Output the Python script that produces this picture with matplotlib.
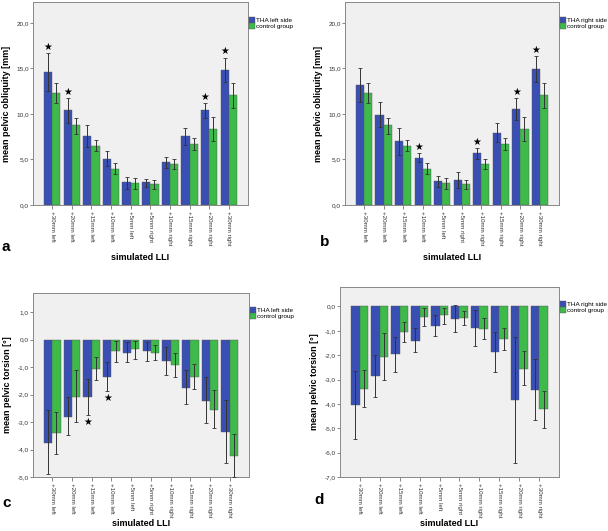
import numpy as np
import matplotlib
matplotlib.use("Agg")
import matplotlib.pyplot as plt
from matplotlib.ticker import FuncFormatter

plt.rcParams["font.family"] = ["Liberation Sans", "DejaVu Sans"]

categories = ["+30mm left", "+20mm left", "+15mm left", "+10mm left", "+5mm left",
              "+5mm right", "+10mm right", "+15mm right", "+20mm right", "+30mm right"]

# panel a: pelvic obliquity, THA left side vs control
a_tha = [14.6, 10.4, 7.6, 5.1, 2.5, 2.5, 4.7, 7.6, 10.4, 14.8]
a_tha_lo = [12.5, 9.0, 6.4, 4.3, 1.8, 2.0, 4.1, 6.6, 9.6, 13.5]
a_tha_hi = [16.7, 11.8, 8.8, 5.9, 3.1, 2.9, 5.3, 8.5, 11.2, 16.2]
a_ctl = [12.3, 8.8, 6.5, 4.0, 2.4, 2.3, 4.5, 6.7, 8.4, 12.1]
a_ctl_lo = [11.2, 7.8, 5.9, 3.4, 1.8, 1.8, 3.9, 6.0, 7.0, 10.7]
a_ctl_hi = [13.4, 9.6, 7.1, 4.6, 3.0, 2.7, 5.1, 7.4, 9.7, 13.4]
a_star = [True, True, False, False, False, False, False, False, True, True]

# panel b: pelvic obliquity, THA right side vs control
b_tha = [13.2, 9.9, 7.0, 5.2, 2.6, 2.7, 5.7, 7.9, 10.6, 14.9]
b_tha_lo = [11.3, 8.6, 5.5, 4.7, 2.0, 1.9, 5.1, 6.9, 9.3, 13.5]
b_tha_hi = [15.0, 11.3, 8.5, 5.7, 3.2, 3.6, 6.3, 9.0, 11.8, 16.4]
b_ctl = a_ctl
b_ctl_lo = a_ctl_lo
b_ctl_hi = a_ctl_hi
b_star = [False, False, False, True, False, False, True, False, True, True]

# panel c: pelvic torsion, THA left side vs control
c_tha = [-3.75, -2.8, -2.08, -1.35, -0.47, -0.43, -0.78, -1.75, -2.22, -3.37]
c_tha_lo = [-4.9, -3.47, -2.75, -1.88, -0.83, -0.78, -1.3, -2.35, -3.05, -4.5]
c_tha_hi = [-2.57, -2.1, -1.42, -0.82, -0.1, -0.1, -0.25, -1.1, -1.37, -2.2]
c_ctl = [-3.4, -2.07, -1.05, -0.42, -0.35, -0.47, -0.92, -1.35, -2.55, -4.22]
c_ctl_lo = [-4.15, -3.0, -1.45, -0.82, -0.7, -0.75, -1.35, -1.78, -3.22, -5.0]
c_ctl_hi = [-2.63, -1.1, -0.62, -0.05, -0.05, -0.2, -0.48, -0.9, -1.83, -3.45]
c_star = [False, False, True, True, False, False, False, False, False, False]

# panel d: pelvic torsion, THA right side vs control
d_tha = [-4.05, -2.85, -1.97, -1.4, -0.8, -0.5, -0.9, -1.87, -3.85, -3.43]
d_tha_lo = [-5.42, -3.7, -2.68, -1.88, -1.2, -1.03, -1.62, -2.7, -6.42, -4.67]
d_tha_hi = [-2.65, -2.0, -1.27, -0.9, -0.37, 0.05, -0.15, -1.03, -1.25, -2.17]
d_ctl = [-3.4, -2.07, -1.05, -0.42, -0.35, -0.47, -0.92, -1.35, -2.55, -4.22]
d_ctl_lo = [-4.13, -3.0, -1.45, -0.82, -0.7, -0.75, -1.35, -1.78, -3.22, -4.98]
d_ctl_hi = [-2.62, -1.1, -0.65, -0.05, -0.05, -0.2, -0.48, -0.9, -1.83, -3.45]
d_star = [False] * 10

BLUE = "#3a4fb3"
GREEN = "#3dba4a"
W, H = 608, 531


def px_axes(fig, left, top, right, bottom):
    return fig.add_axes([left / W, 1 - bottom / H, (right - left) / W, (bottom - top) / H])


def panel(ax, tha, tha_lo, tha_hi, ctl, ctl_lo, ctl_hi, star, ylim, yticks,
          ylabel, tha_label, star_below=False, xlab_y=-0.235):
    x = np.arange(len(categories))
    bw = 0.42
    ax.set_facecolor("#f0f0f0")
    ax.bar(x - bw / 2, tha, bw, color=BLUE, edgecolor="#555555", linewidth=0.3,
           label=tha_label, zorder=2)
    ax.bar(x + bw / 2, ctl, bw, color=GREEN, edgecolor="#555555", linewidth=0.3,
           label="control group", zorder=2)
    tha, tha_lo, tha_hi = map(np.array, (tha, tha_lo, tha_hi))
    ctl, ctl_lo, ctl_hi = map(np.array, (ctl, ctl_lo, ctl_hi))
    ax.errorbar(x - bw / 2, tha, yerr=[tha - tha_lo, tha_hi - tha], fmt="none",
                ecolor="#333333", elinewidth=0.7, capsize=1.2, capthick=0.6, zorder=3)
    ax.errorbar(x + bw / 2, ctl, yerr=[ctl - ctl_lo, ctl_hi - ctl], fmt="none",
                ecolor="#333333", elinewidth=0.7, capsize=1.2, capthick=0.6, zorder=3)
    off = (ylim[1] - ylim[0]) * 0.03
    for i, s in enumerate(star):
        if s:
            y = tha_lo[i] - off * 1.2 if star_below else tha_hi[i] + off
            ax.text(x[i] - bw / 2, y, "\u2605", ha="center", va="center",
                    fontsize=7, color="black", zorder=4, family="DejaVu Sans")
    ax.set_xlim(-0.98, len(categories) - 0.02)
    ax.set_ylim(*ylim)
    ax.set_yticks(yticks)
    ax.yaxis.set_major_formatter(FuncFormatter(lambda v, p: f"{v:.1f}".replace(".", ",")))
    ax.set_xticks(x)
    ax.set_xticklabels(categories, rotation=270, fontsize=4.4, color="#333333")
    ax.tick_params(axis="y", labelsize=4.6, labelcolor="#333333", length=2,
                   width=0.5, pad=1, color="#555555")
    ax.tick_params(axis="x", length=3, width=0.5, pad=1.5, color="#555555")
    for sp in ax.spines.values():
        sp.set_color("#888888")
        sp.set_linewidth(0.7)
    ax.set_ylabel(ylabel, fontsize=6.5, fontweight="bold", labelpad=4)
    ax.set_xlabel("simulated LLI", fontsize=6.5, fontweight="bold")
    ax.xaxis.set_label_coords(0.5, xlab_y)
    ax.legend(loc="upper left", bbox_to_anchor=(1.005, 0.925), frameon=False,
              fontsize=4.6, handlelength=0.9, handleheight=1.0, handletextpad=0.2,
              labelspacing=0.0, borderpad=0, borderaxespad=0)


fig = plt.figure(figsize=(W / 100, H / 100), dpi=100)
fig.patch.set_facecolor("white")

ax_a = px_axes(fig, 33, 2, 248, 205)
panel(ax_a, a_tha, a_tha_lo, a_tha_hi, a_ctl, a_ctl_lo, a_ctl_hi, a_star,
      (0, 22.3), [0, 5, 10, 15, 20], "mean pelvic obliquity [mm]", "THA left side")

ax_b = px_axes(fig, 345, 2, 559, 205)
panel(ax_b, b_tha, b_tha_lo, b_tha_hi, b_ctl, b_ctl_lo, b_ctl_hi, b_star,
      (0, 22.3), [0, 5, 10, 15, 20], "mean pelvic obliquity [mm]", "THA right side")

ax_c = px_axes(fig, 33, 293, 249, 477)
panel(ax_c, c_tha, c_tha_lo, c_tha_hi, c_ctl, c_ctl_lo, c_ctl_hi, c_star,
      (-5, 1.7), [-5, -4, -3, -2, -1, 0, 1], "mean pelvic torsion [°]", "THA left side",
      star_below=True, xlab_y=-0.23)

ax_d = px_axes(fig, 340, 287, 559, 477)
panel(ax_d, d_tha, d_tha_lo, d_tha_hi, d_ctl, d_ctl_lo, d_ctl_hi, d_star,
      (-7, 0.8), [-7, -6, -5, -4, -3, -2, -1, 0], "mean pelvic torsion [°]", "THA right side",
      xlab_y=-0.22)

for lab, (px, py) in zip("abcd", [(2, 247), (320, 242), (2, 503), (314, 500)]):
    fig.text(px / W, 1 - py / H, lab, fontsize=11, fontweight="bold", va="center")

fig.savefig("out.png", dpi=100)
